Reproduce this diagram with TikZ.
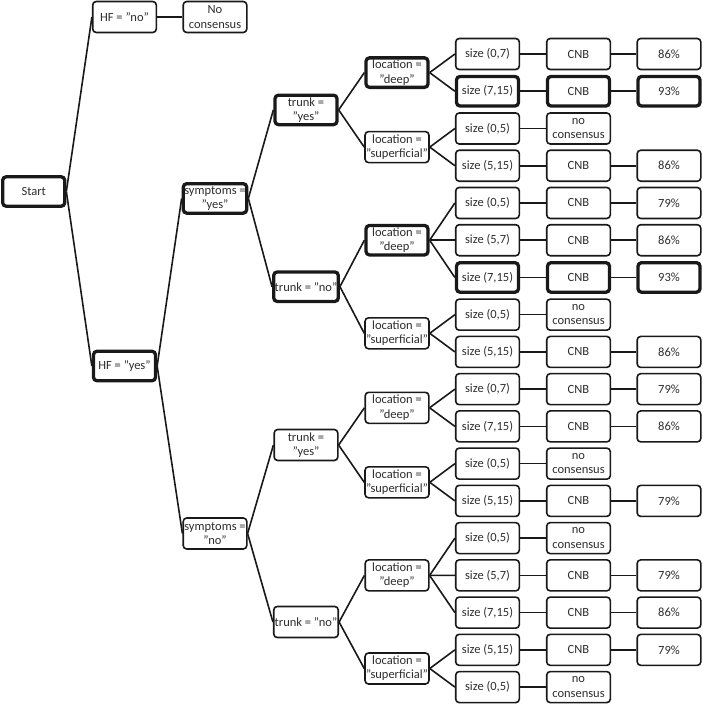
\documentclass[tikz,border=0pt]{standalone}
\usepackage{fontspec}
\setmainfont{Carlito}
\begin{document}
\begin{tikzpicture}[x=1pt,y=-1pt,
  box/.style={draw=black!90, rounded corners=3.5pt, line width=1.6pt, fill=white,
    minimum width=63.6pt, minimum height=31pt, align=center, inner sep=1pt,
    font=\fontsize{12.5}{14.3}\selectfont, text=black!82},
  bold/.style={line width=3.3pt, minimum width=62pt, minimum height=29.5pt},
  link/.style={line width=1.6pt, draw=black!90}]
\useasboundingbox (0,0) rectangle (703,704);
% columns
\def\cA{33.7}\def\cB{124.5}\def\cC{215}\def\cD{306}\def\cE{397}\def\cF{487.5}\def\cG{578.5}\def\cH{669}
% root levels
\node[box,bold] (start) at (\cA,191.5) {Start};
\node[box] (hfno) at (\cB,17) {HF = "no"};
\node[box] (nc0) at (\cC,17) {No\\consensus};
\node[box,bold] (hfyes) at (\cB,366) {HF = "yes"};
\node[box,bold] (sy) at (\cC,198.4) {symptoms =\\"yes"};
\node[box] (sn) at (\cC,533.5) {symptoms =\\"no"};
\node[box,bold] (t1) at (\cD,109.9) {trunk =\\"yes"};
\node[box,bold] (t2) at (\cD,286.7) {trunk = "no"};
\node[box] (t3) at (\cD,445) {trunk =\\"yes"};
\node[box] (t4) at (\cD,622) {trunk = "no"};
% locations
\node[box,bold] (l1) at (\cE,72.6) {location =\\"deep"};
\node[box] (l2) at (\cE,147.1) {location =\\"superficial"};
\node[box,bold] (l3) at (\cE,240.2) {location =\\"deep"};
\node[box] (l4) at (\cE,333.3) {location =\\"superficial"};
\node[box] (l5) at (\cE,407.8) {location =\\"deep"};
\node[box] (l6) at (\cE,482.3) {location =\\"superficial"};
\node[box] (l7) at (\cE,575.4) {location =\\"deep"};
\node[box] (l8) at (\cE,668.5) {location =\\"superficial"};
% sizes
\node[box] (s0) at (\cF,54.0) {size (0,7)};
\node[box,bold] (s1) at (\cF,91.24) {size (7,15)};
\node[box] (s2) at (\cF,128.48) {size (0,5)};
\node[box] (s3) at (\cF,165.72) {size (5,15)};
\node[box] (s4) at (\cF,202.96) {size (0,5)};
\node[box] (s5) at (\cF,240.2) {size (5,7)};
\node[box,bold] (s6) at (\cF,277.44) {size (7,15)};
\node[box] (s7) at (\cF,314.68) {size (0,5)};
\node[box] (s8) at (\cF,351.92) {size (5,15)};
\node[box] (s9) at (\cF,389.16) {size (0,7)};
\node[box] (s10) at (\cF,426.4) {size (7,15)};
\node[box] (s11) at (\cF,463.64) {size (0,5)};
\node[box] (s12) at (\cF,500.88) {size (5,15)};
\node[box] (s13) at (\cF,538.12) {size (0,5)};
\node[box] (s14) at (\cF,575.36) {size (5,7)};
\node[box] (s15) at (\cF,612.6) {size (7,15)};
\node[box] (s16) at (\cF,649.84) {size (5,15)};
\node[box] (s17) at (\cF,687.08) {size (0,5)};
% methods
\node[box] (m0) at (\cG,54.0) {CNB};
\node[box,bold] (m1) at (\cG,91.24) {CNB};
\node[box] (m2) at (\cG,128.48) {no\\consensus};
\node[box] (m3) at (\cG,165.72) {CNB};
\node[box] (m4) at (\cG,202.96) {CNB};
\node[box] (m5) at (\cG,240.2) {CNB};
\node[box,bold] (m6) at (\cG,277.44) {CNB};
\node[box] (m7) at (\cG,314.68) {no\\consensus};
\node[box] (m8) at (\cG,351.92) {CNB};
\node[box] (m9) at (\cG,389.16) {CNB};
\node[box] (m10) at (\cG,426.4) {CNB};
\node[box] (m11) at (\cG,463.64) {no\\consensus};
\node[box] (m12) at (\cG,500.88) {CNB};
\node[box] (m13) at (\cG,538.12) {no\\consensus};
\node[box] (m14) at (\cG,575.36) {CNB};
\node[box] (m15) at (\cG,612.6) {CNB};
\node[box] (m16) at (\cG,649.84) {CNB};
\node[box] (m17) at (\cG,687.08) {no\\consensus};
% percentages
\node[box] (p0) at (\cH,54.0) {86\%};
\node[box,bold] (p1) at (\cH,91.24) {93\%};
\node[box] (p3) at (\cH,165.72) {86\%};
\node[box] (p4) at (\cH,202.96) {79\%};
\node[box] (p5) at (\cH,240.2) {86\%};
\node[box,bold] (p6) at (\cH,277.44) {93\%};
\node[box] (p8) at (\cH,351.92) {86\%};
\node[box] (p9) at (\cH,389.16) {79\%};
\node[box] (p10) at (\cH,426.4) {86\%};
\node[box] (p12) at (\cH,500.88) {79\%};
\node[box] (p14) at (\cH,575.36) {79\%};
\node[box] (p15) at (\cH,612.6) {86\%};
\node[box] (p16) at (\cH,649.84) {79\%};
% connectors
\draw[link] (start.east) -- (hfno.west);
\draw[link] (start.east) -- (hfyes.west);
\draw[link] (hfno.east) -- (nc0.west);
\draw[link] (hfyes.east) -- (sy.west);
\draw[link] (hfyes.east) -- (sn.west);
\draw[link] (sy.east) -- (t1.west);
\draw[link] (sy.east) -- (t2.west);
\draw[link] (sn.east) -- (t3.west);
\draw[link] (sn.east) -- (t4.west);
\draw[link] (t1.east) -- (l1.west);
\draw[link] (t1.east) -- (l2.west);
\draw[link] (t2.east) -- (l3.west);
\draw[link] (t2.east) -- (l4.west);
\draw[link] (t3.east) -- (l5.west);
\draw[link] (t3.east) -- (l6.west);
\draw[link] (t4.east) -- (l7.west);
\draw[link] (t4.east) -- (l8.west);
\draw[link] (l1.east) -- (s0.west);
\draw[link] (l1.east) -- (s1.west);
\draw[link] (l2.east) -- (s2.west);
\draw[link] (l2.east) -- (s3.west);
\draw[link] (l3.east) -- (s4.west);
\draw[link] (l3.east) -- (s5.west);
\draw[link] (l3.east) -- (s6.west);
\draw[link] (l4.east) -- (s7.west);
\draw[link] (l4.east) -- (s8.west);
\draw[link] (l5.east) -- (s9.west);
\draw[link] (l5.east) -- (s10.west);
\draw[link] (l6.east) -- (s11.west);
\draw[link] (l6.east) -- (s12.west);
\draw[link] (l7.east) -- (s13.west);
\draw[link] (l7.east) -- (s14.west);
\draw[link] (l7.east) -- (s15.west);
\draw[link] (l8.east) -- (s16.west);
\draw[link] (l8.east) -- (s17.west);
\foreach \i in {0,...,17} {\draw[link] (s\i.east) -- (m\i.west);}
\foreach \i in {0,1,3,4,5,6,8,9,10,12,14,15,16} {\draw[link] (m\i.east) -- (p\i.west);}
\end{tikzpicture}
\end{document}
